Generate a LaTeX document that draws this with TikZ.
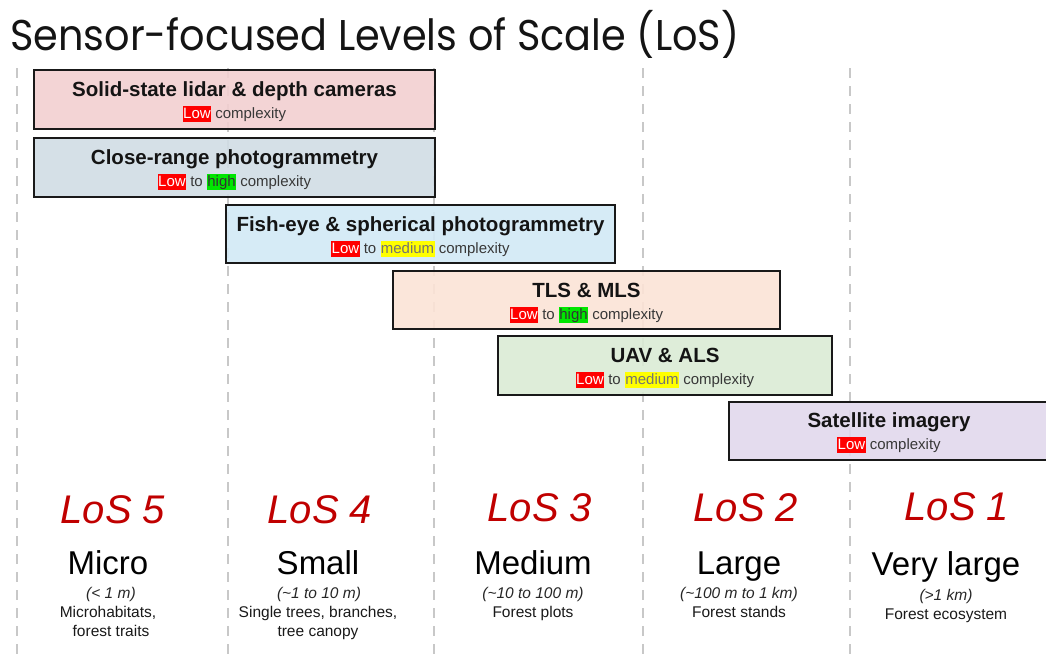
\documentclass[tikz,border=0pt]{standalone}
\usepackage{fontspec}
\setmainfont{Liberation Sans}
\newfontfamily\headfont{Poppins}
\definecolor{lidarfill}{HTML}{F2CFD0}
\definecolor{closefill}{HTML}{D0DDE4}
\definecolor{fishfill}{HTML}{D2E9F5}
\definecolor{tlsfill}{HTML}{FBE3D6}
\definecolor{uavfill}{HTML}{DAEBD5}
\definecolor{satfill}{HTML}{E1D8EC}
\definecolor{losred}{HTML}{C00000}
\definecolor{gridgrey}{HTML}{C8C8C8}
\definecolor{hlred}{HTML}{FF0000}
\definecolor{hlgreen}{HTML}{00E600}
\definecolor{hlyellow}{HTML}{FFFF00}
% coloured highlight behind a word
\newcommand{\hilite}[3]{{\setlength{\fboxsep}{0.4pt}\colorbox{#1}{\rule[-0.22em]{0pt}{0.98em}\textcolor{#2}{#3}}}}
\newcommand{\lowtag}{\hilite{hlred}{white}{Low}}
\newcommand{\hightag}{\hilite{hlgreen}{black!80}{high}}
\newcommand{\medtag}{\hilite{hlyellow}{black!55}{medium}}
\begin{document}
\begin{tikzpicture}[x=1pt,y=-1pt,
  sensorbox/.style={draw=black!90, line width=1.8pt, fill opacity=0.9, inner sep=0pt},
  boxtitle/.style={anchor=base, inner sep=0pt, font=\fontsize{20.5}{24}\selectfont\bfseries, text=black!92},
  boxsub/.style={anchor=base, inner sep=0pt, font=\fontsize{15}{18}\selectfont, text=black!78},
  divider/.style={draw=gridgrey, line width=2.6pt, dash pattern=on 10pt off 8pt},
  lvl/.style={anchor=base, inner sep=0pt, font=\fontsize{40}{48}\selectfont\itshape, text=losred},
  catname/.style={anchor=base, inner sep=0pt, font=\fontsize{33}{40}\selectfont, text=black},
  sizerange/.style={anchor=base, inner sep=0pt, font=\fontsize{15.5}{18}\selectfont\itshape, text=black!85},
  desc/.style={anchor=base, inner sep=0pt, font=\fontsize{15.5}{18}\selectfont, text=black!90}]
\useasboundingbox (0,0) rectangle (1046,657);

% title
\node[anchor=base west, inner sep=0pt, font=\headfont\fontsize{43}{50}\selectfont, text=black!92] (title) at (10,50) {\scalebox{0.926}[1]{Sensor-focused Levels of Scale (LoS)}};

% column dividers
\foreach \x [count=\i] in {17,228,434,643,850}{
  \coordinate (dtop\i) at (\x,68);
  \coordinate (dbot\i) at (\x,660);
  \draw[divider] (dtop\i) -- (dbot\i);
}

% sensor boxes
\node[sensorbox, fill=lidarfill, minimum width=401pt, minimum height=59pt] (lidar) at (234.5,99.5) {};
\node[boxtitle] (lidarT) at ([yshift=-27pt]lidar.north) {Solid-state lidar \& depth cameras};
\node[boxsub] (lidarS) at ([yshift=-49pt]lidar.north) {\lowtag{} complexity};

\node[sensorbox, fill=closefill, minimum width=401pt, minimum height=59pt] (close) at (234.5,167.5) {};
\node[boxtitle] (closeT) at ([yshift=-27pt]close.north) {Close-range photogrammetry};
\node[boxsub] (closeS) at ([yshift=-49pt]close.north) {\lowtag{} to \hightag{} complexity};

\node[sensorbox, fill=fishfill, minimum width=389pt, minimum height=58pt] (fish) at (420.5,234) {};
\node[boxtitle] (fishT) at ([yshift=-27pt]fish.north) {Fish-eye \& spherical photogrammetry};
\node[boxsub] (fishS) at ([yshift=-49pt]fish.north) {\lowtag{} to \medtag{} complexity};

\node[sensorbox, fill=tlsfill, minimum width=387pt, minimum height=58pt] (tls) at (586.5,300) {};
\node[boxtitle] (tlsT) at ([yshift=-27pt]tls.north) {TLS \& MLS};
\node[boxsub] (tlsS) at ([yshift=-49pt]tls.north) {\lowtag{} to \hightag{} complexity};

\node[sensorbox, fill=uavfill, minimum width=334pt, minimum height=59pt] (uav) at (665,365.5) {};
\node[boxtitle] (uavT) at ([yshift=-27pt]uav.north) {UAV \& ALS};
\node[boxsub] (uavS) at ([yshift=-49pt]uav.north) {\lowtag{} to \medtag{} complexity};

\node[sensorbox, fill=satfill, minimum width=331pt, minimum height=58pt] (sat) at (894.5,431) {};
\node[boxtitle] (satT) at (889,427) {Satellite imagery};
\node[boxsub] (satS) at (889,449) {\lowtag{} complexity};

% levels of scale
\node[lvl] (los5) at (113,523) {LoS 5};
\node[lvl] (los4) at (320,523) {LoS 4};
\node[lvl] (los3) at (540,521) {LoS 3};
\node[lvl] (los2) at (746,521) {LoS 2};
\node[lvl] (los1) at (957,520) {LoS 1};

\node[catname] (cat5) at (108,574) {Micro};
\node[catname] (cat4) at (318,574) {Small};
\node[catname] (cat3) at (533,574) {Medium};
\node[catname] (cat2) at (739,574) {Large};
\node[catname] (cat1) at (946,575) {Very large};

\node[sizerange] (rng5) at (111,598) {(< 1 m)};
\node[sizerange] (rng4) at (319,598) {(\textasciitilde 1 to 10 m)};
\node[sizerange] (rng3) at (533,598) {(\textasciitilde 10 to 100 m)};
\node[sizerange] (rng2) at (739,598) {(\textasciitilde 100 m to 1 km)};
\node[sizerange] (rng1) at (946,600) {(>1 km)};

\node[desc] (dsc5a) at (108,617) {Microhabitats,};
\node[desc] (dsc5b) at (111,636) {forest traits};
\node[desc] (dsc4a) at (318,617) {Single trees, branches,};
\node[desc] (dsc4b) at (318,636) {tree canopy};
\node[desc] (dsc3) at (533,617) {Forest plots};
\node[desc] (dsc2) at (739,617) {Forest stands};
\node[desc] (dsc1) at (946,619) {Forest ecosystem};
\end{tikzpicture}
\end{document}
